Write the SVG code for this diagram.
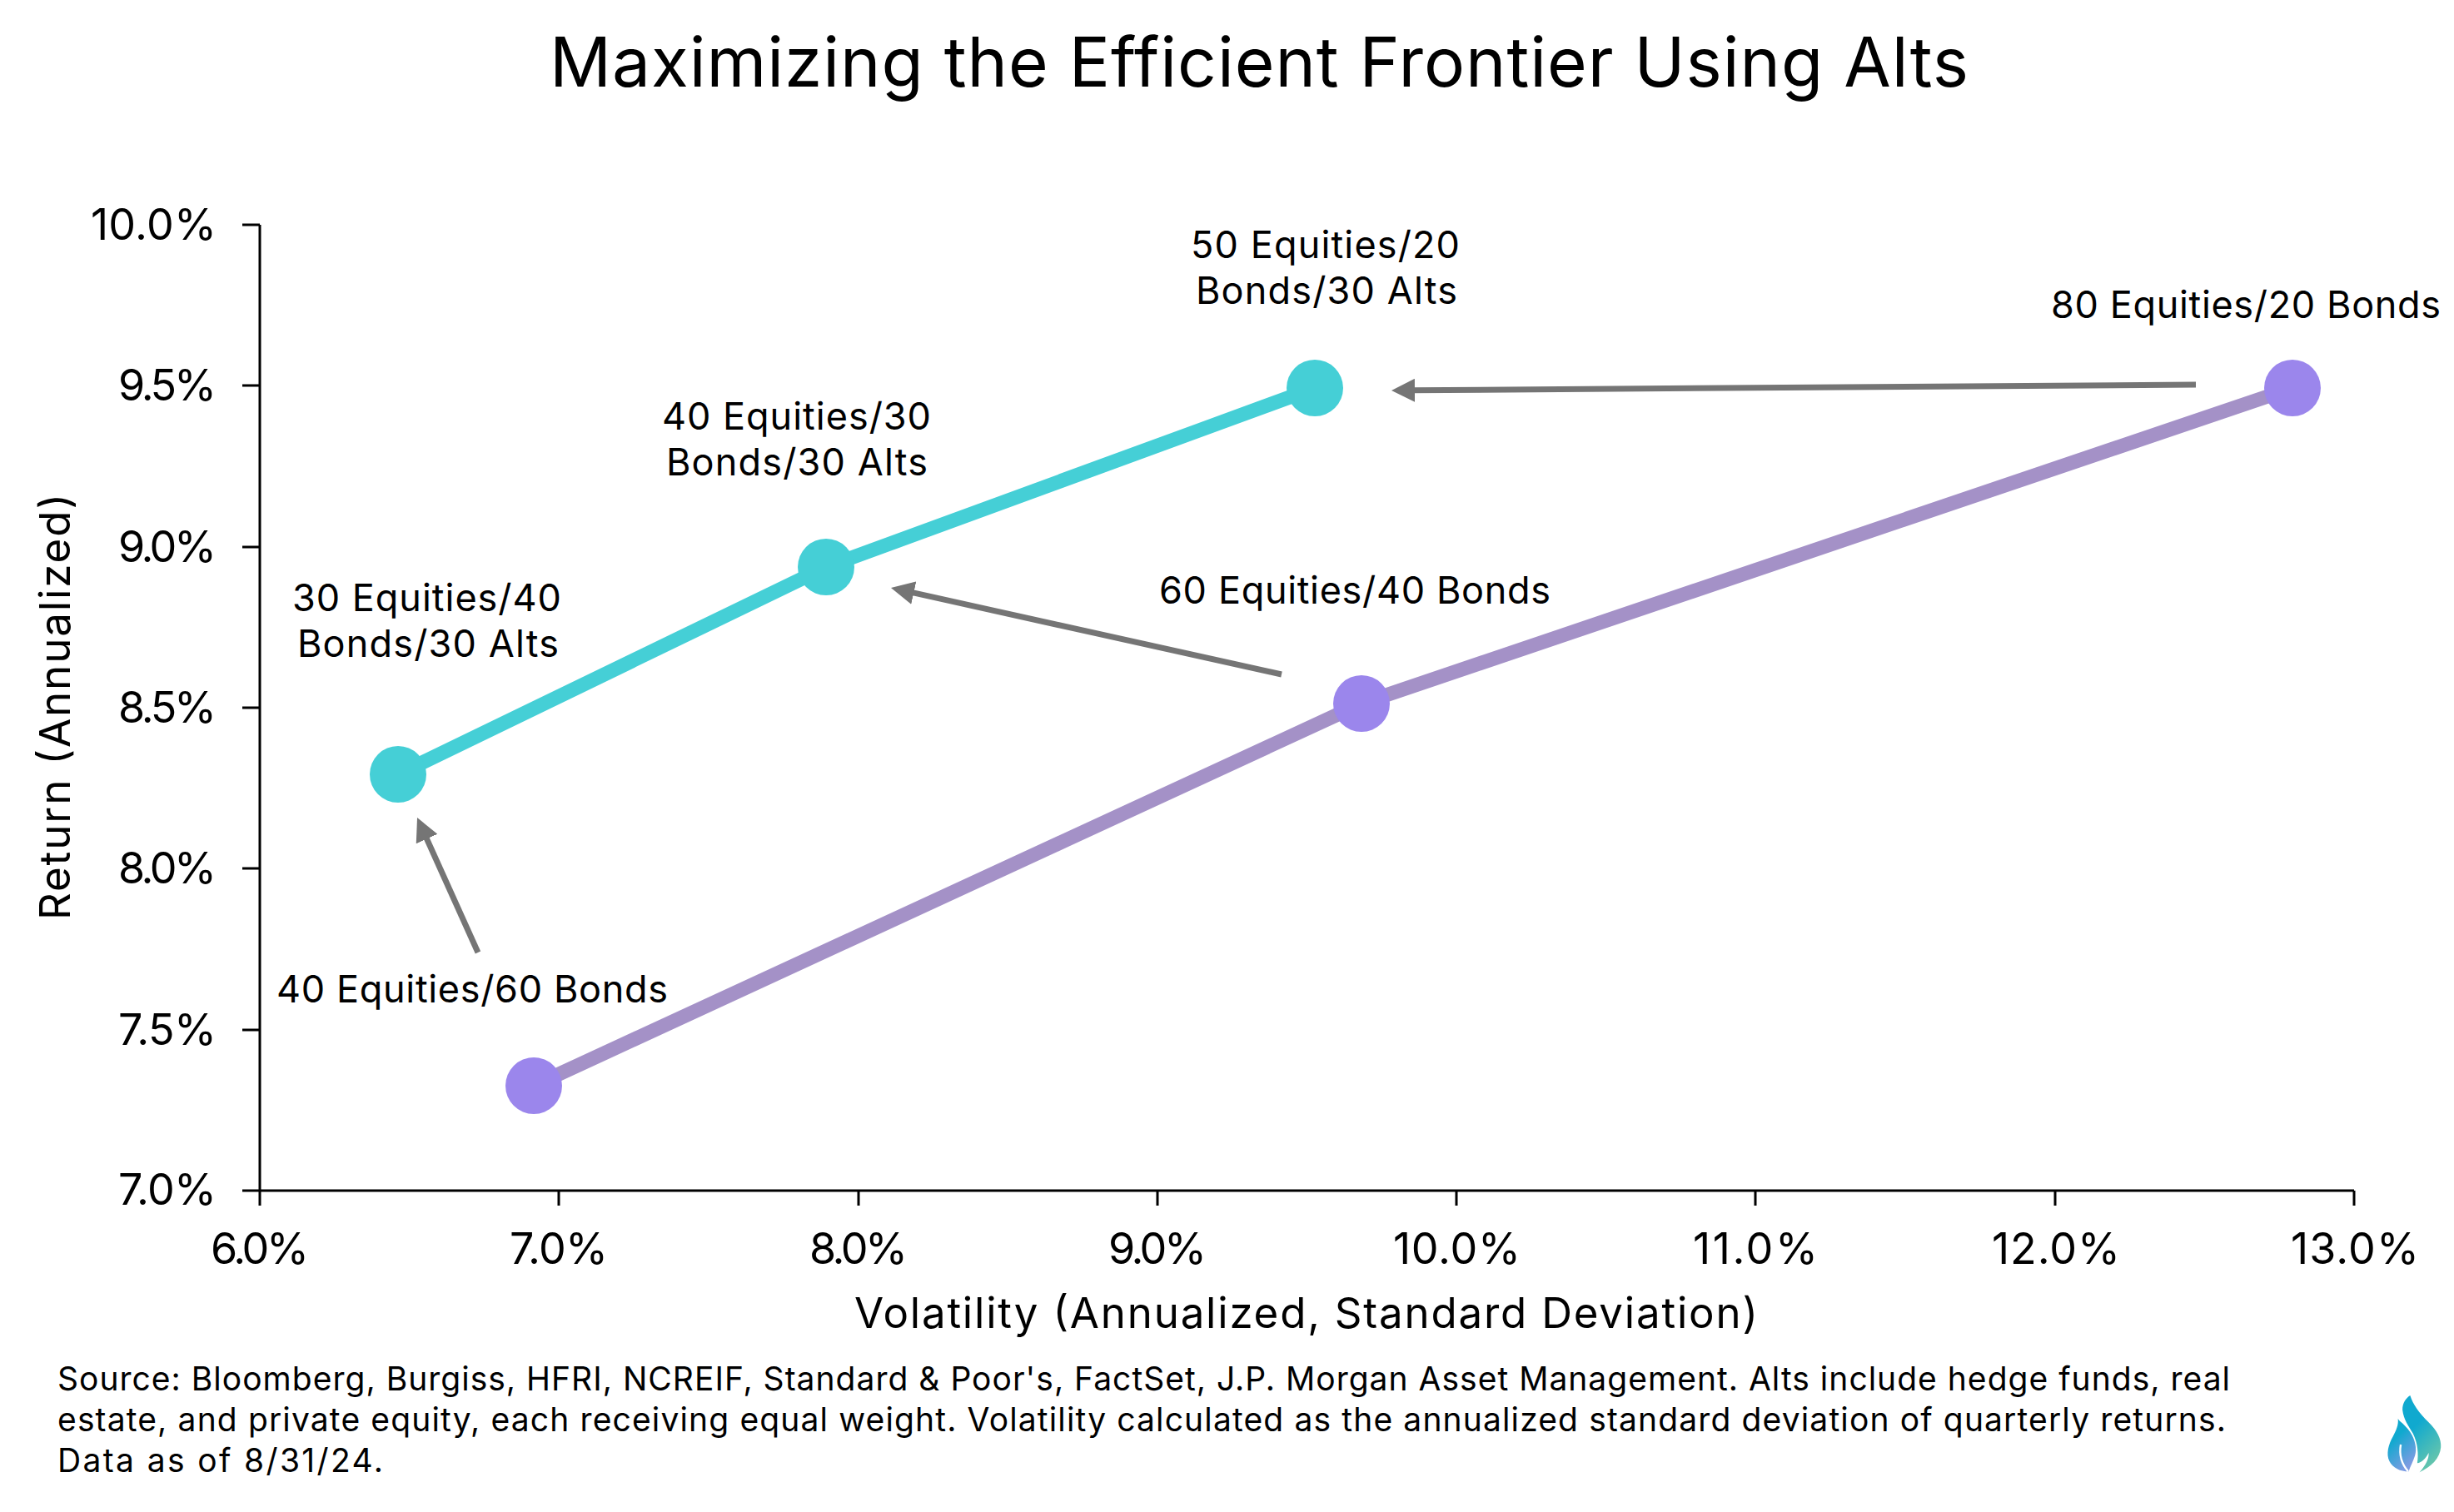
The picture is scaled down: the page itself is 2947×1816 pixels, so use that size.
<svg xmlns="http://www.w3.org/2000/svg" width="2947" height="1816" viewBox="0 0 2947 1816">
<style>
text{font-family:"Inter","Liberation Sans",sans-serif;fill:#000}
.title{font-size:82px}
.tick{font-size:52px}
.axis{font-size:51px}
.lab{font-size:45px}
.src{font-size:39px}
.ax{stroke:#000;stroke-width:3;fill:none}
.teal{fill:none;stroke:#45cfd6;stroke-width:17}
.pur{fill:none;stroke:#a491c7;stroke-width:17}
.nt{fill:#45cfd6}
.np{fill:#9b86ec}
.arr{stroke:#757575;stroke-width:7;fill:none;marker-end:url(#ah)}
</style>
<defs>
<marker id="ah" markerUnits="userSpaceOnUse" markerWidth="30" markerHeight="28" refX="4" refY="14" orient="auto"><path d="M0 0L28 14L0 28Z" fill="#757575"/></marker>
<linearGradient id="g1" x1="0" y1="0" x2="0.5" y2="1"><stop offset="0.45" stop-color="#10a9cf"/><stop offset="1" stop-color="#62c4ae"/></linearGradient>
<linearGradient id="g2" x1="0" y1="0" x2="0.5" y2="1"><stop offset="0.4" stop-color="#10a9cf"/><stop offset="1" stop-color="#7c9ce2"/></linearGradient>
</defs>
<rect width="2947" height="1816" fill="#fff"/>
<text class="title" x="660" y="104" textLength="1704">Maximizing the Efficient Frontier Using Alts</text>
<g id="axes">
<path class="ax" d="M312 270V1448M291 1430H2827"/>
<path class="ax" d="M291 270H312M291 463H312M291 657H312M291 850H312M291 1043H312M291 1237H312"/>
<path class="ax" d="M671 1430V1448M1031 1430V1448M1390 1430V1448M1749 1430V1448M2108 1430V1448M2468 1430V1448M2827 1430V1448"/>
</g>
<g id="y-ticks">
<text class="tick" x="109" y="288" textLength="151">10.0%</text>
<text class="tick" x="142" y="481" textLength="118">9.5%</text>
<text class="tick" x="142" y="675" textLength="118">9.0%</text>
<text class="tick" x="142" y="868" textLength="118">8.5%</text>
<text class="tick" x="142" y="1061" textLength="118">8.0%</text>
<text class="tick" x="142" y="1255" textLength="118">7.5%</text>
<text class="tick" x="142" y="1447" textLength="118">7.0%</text>
</g>
<g id="x-ticks">
<text class="tick" x="253" y="1518" textLength="118">6.0%</text>
<text class="tick" x="612" y="1518" textLength="118">7.0%</text>
<text class="tick" x="972" y="1518" textLength="118">8.0%</text>
<text class="tick" x="1331" y="1518" textLength="118">9.0%</text>
<text class="tick" x="1673" y="1518" textLength="153">10.0%</text>
<text class="tick" x="2033" y="1518" textLength="150">11.0%</text>
<text class="tick" x="2392" y="1518" textLength="154">12.0%</text>
<text class="tick" x="2751" y="1518" textLength="154">13.0%</text>
</g>
<text class="axis" x="1026" y="1595" textLength="1085">Volatility (Annualized, Standard Deviation)</text>
<text class="axis" transform="translate(84 1105) rotate(-90)" x="0" y="0" textLength="512">Return (Annualized)</text>
<g id="connectors">
<path class="teal" d="M478 930L992 681L1579 466"/>
<path class="pur" d="M641 1304L1635 845L2753 466"/>
<path class="arr" d="M2637 462L1695 468.8"/>
<path class="arr" d="M1539 810L1093.4 711.2"/>
<path class="arr" d="M574 1144L510.9 1003.9"/>
</g>
<g id="node-t1"><circle class="nt" cx="478" cy="930" r="34"/><text class="lab" x="351" y="734" textLength="323">30 Equities/40</text><text class="lab" x="357" y="789" textLength="314">Bonds/30 Alts</text></g>
<g id="node-t2"><circle class="nt" cx="992" cy="681" r="34"/><text class="lab" x="795" y="516" textLength="323">40 Equities/30</text><text class="lab" x="800" y="571" textLength="314">Bonds/30 Alts</text></g>
<g id="node-t3"><circle class="nt" cx="1579" cy="466" r="34"/><text class="lab" x="1430" y="310" textLength="323">50 Equities/20</text><text class="lab" x="1436" y="365" textLength="314">Bonds/30 Alts</text></g>
<g id="node-p1"><circle class="np" cx="641" cy="1304" r="34"/><text class="lab" x="332" y="1204" textLength="470">40 Equities/60 Bonds</text></g>
<g id="node-p2"><circle class="np" cx="1635" cy="845" r="34"/><text class="lab" x="1392" y="725" textLength="470">60 Equities/40 Bonds</text></g>
<g id="node-p3"><circle class="np" cx="2753" cy="466" r="34"/><text class="lab" x="2463" y="382" textLength="468">80 Equities/20 Bonds</text></g>
<g id="source">
<text class="src" x="69" y="1670" textLength="2609">Source: Bloomberg, Burgiss, HFRI, NCREIF, Standard &amp; Poor's, FactSet, J.P. Morgan Asset Management. Alts include hedge funds, real</text>
<text class="src" x="69" y="1719" textLength="2604">estate, and private equity, each receiving equal weight. Volatility calculated as the annualized standard deviation of quarterly returns.</text>
<text class="src" x="69" y="1768" textLength="391">Data as of 8/31/24.</text>
</g>
<g id="logo" transform="translate(2780 1640) scale(0.3413 0.3333)">
<path fill="url(#g1)" d="M335 108C345 140 365 170 400 205C430 235 445 265 443 295C440 335 410 365 368 385C390 360 402 335 400 315C390 335 375 350 360 352C365 320 362 280 345 245C330 220 312 195 308 160C308 135 320 118 335 108Z"/>
<path fill="url(#g2)" d="M292 192C300 205 315 210 335 240C352 265 360 300 352 325C346 345 335 365 330 382C300 382 275 370 262 345C250 320 258 285 275 255C285 235 295 215 292 192Z"/>
<path fill="none" stroke="#fff" stroke-width="7" d="M302 285C296 320 305 355 328 382"/>
</g>
</svg>
